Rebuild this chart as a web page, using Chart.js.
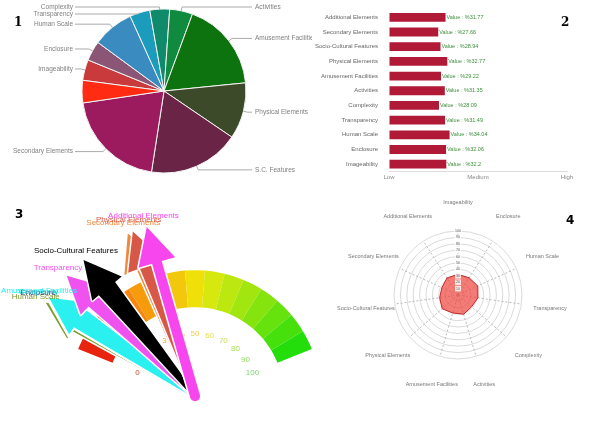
<!DOCTYPE html>
<html>
<head>
<meta charset="utf-8">
<script src="https://cdn.jsdelivr.net/npm/chart.js@4.4.1/dist/chart.umd.min.js"></script>
<style>
  html, body { margin: 0; padding: 0; background: #fff; }
  #wrap { position: relative; width: 600px; height: 423px; overflow: hidden; background: #fff; }
  canvas { position: absolute; }
  .num { position: absolute; font-size: 12px; line-height: 12px; font-weight: bold; color: #000; }
  .serif { font-family: "DejaVu Serif", serif; }
  .sans { font-family: "DejaVu Sans", sans-serif; }
</style>
</head>
<body>
<div id="wrap">
  <canvas id="pie" width="312" height="200" style="left:0;top:0"></canvas>
  <canvas id="bar" width="300" height="200" style="left:300px;top:0"></canvas>
  <canvas id="gauge" width="330" height="223" style="left:0;top:200px"></canvas>
  <canvas id="radar" width="300" height="228" style="left:300px;top:195px"></canvas>
  <div class="num serif" style="left:14px;top:16px">1</div>
  <div class="num serif" style="left:561px;top:16px">2</div>
  <div class="num sans" style="left:15px;top:208px">3</div>
  <div class="num sans" style="left:566px;top:214px">4</div>
</div>
<script>
// ---- DATA ----
// 1: pie (slice sizes read as degrees, clockwise starting at Imageability)
const pieLabels = ['Imageability', 'Enclosure', 'Human Scale', 'Transparency', 'Complexity', 'Activities',
  'Amusement Facilities', 'Physical Elements', 'S.C. Features', 'Secondary Elements', 'Additional Elements'];
const pieValues = [14.7, 14.1, 29.4, 14.3, 14.0, 16.3, 64.0, 39.9, 64.6, 72.8, 15.9];
const pieCallouts = ['Imageability', 'Enclosure', 'Human Scale', 'Transparency', 'Complexity', 'Activities',
  'Amusement Facilities', 'Physical Elements', 'S.C. Features', 'Secondary Elements', ''];

// 2: horizontal bars
const barCategories = ['Additional Elements', 'Secondary Elements', 'Socio-Cultural Features', 'Physical Elements',
  'Amusement Facilities', 'Activities', 'Complexity', 'Transparency', 'Human Scale', 'Enclosure', 'Imageability'];
const barValues = [31.77, 27.66, 28.94, 32.77, 29.22, 31.35, 28.09, 31.49, 34.04, 32.06, 32.2];
const levelLabels = ['Low', 'Medium', 'High'];

// 3: gauge bands + needles
const gaugeBands = [1, 1, 1, 1, 1, 1, 1, 1, 1, 1, 1, 1, 1, 1, 1];
const gaugeTicks = [0, 10, 20, 30, 40, 50, 60, 70, 80, 90, 100];
const arrowLabels = ['Human Scale', 'Enclosure', 'Complexity', 'Amusement Facilities', 'Transparency',
  'Socio-Cultural Features', 'Secondary Elements', 'Physical Elements', 'Additional Elements'];
const arrowValues = [7.4, 8.4, 8.6, 8.8, 15.6, 21.1, 33.5, 34.8, 38.3];

// 4: radar
const radarLabels = ['Imageability', 'Enclosure', 'Human Scale', 'Transparency', 'Complexity', 'Activities',
  'Amusement Facilities', 'Physical Elements', 'Socio-Cultural Features', 'Secondary Elements', 'Additional Elements'];
const radarValues = [32.2, 32.06, 34.04, 31.49, 28.09, 31.35, 29.22, 32.77, 28.94, 27.66, 31.77];

// ---- STYLES ----
const pieColors = ['#c93a3c', '#8b5675', '#3a8cc0', '#1b9cbc', '#0f8b6c', '#0f8a3e',
  '#0d730f', '#3c4a29', '#6a2546', '#9c1b5f', '#ff2b12'];
const bandColors = ['#e8230e', '#ee4712', '#f2700f', '#f5860e', '#f59b0c', '#f4b20a', '#f2c80c', '#efe00a',
  '#d6e80e', '#bde80f', '#a2e60f', '#86e40e', '#66e20d', '#46e00d', '#24de0c'];
const tickColors = ['#c8503c', '#e06030', '#f07a30', '#f5a030', '#f5c040', '#f2d04a', '#e2de50',
  '#c8e25a', '#a8e060', '#8ede62', '#78dc68'];
const arrowColors = ['#7c9c2c', '#1c3c6c', '#22b0c0', '#2af0f0', '#f052f0', '#000000', '#f0883a', '#d85848', '#f846ee'];
const arrowWidths = [[4, 20], [4, 20], [4, 20], [4, 21], [4, 15], [4, 21], [4, 11], [4, 13], [10, 10]];

Chart.defaults.font.family = '"Liberation Sans", Arial, sans-serif';
Chart.defaults.animation = false;
Chart.defaults.events = [];
Chart.defaults.plugins.legend.display = false;
Chart.defaults.plugins.tooltip.enabled = false;

// ---- 1: PIE ----
const pieCalloutPlugin = {
  id: 'pieCallouts',
  afterDatasetsDraw(chart) {
    const ctx = chart.ctx;
    const arcs = chart.getDatasetMeta(0).data;
    const items = [];
    arcs.forEach((arc, i) => {
      if (!pieCallouts[i]) return;
      const mid = (arc.startAngle + arc.endAngle) / 2;
      const c = Math.cos(mid), s = Math.sin(mid);
      const r = arc.outerRadius;
      items.push({
        text: pieCallouts[i], right: c >= 0, cx: arc.x,
        x0: arc.x + c * r, y0: arc.y + s * r,
        x1: arc.x + c * (r + 4), y: arc.y + s * (r + 4)
      });
    });
    // keep labels apart on each side
    [true, false].forEach(side => {
      const list = items.filter(it => it.right === side).sort((a, b) => a.y - b.y);
      list.forEach((it, k) => {
        if (k === 0) it.y = Math.max(it.y, 7);
        else if (it.y - list[k - 1].y < 7) it.y = list[k - 1].y + 7;
      });
    });
    ctx.save();
    ctx.strokeStyle = '#aaaaaa';
    ctx.lineWidth = 1;
    ctx.fillStyle = '#808080';
    ctx.font = '6.5px "Liberation Sans", Arial, sans-serif';
    ctx.textBaseline = 'middle';
    items.forEach(it => {
      const xe = it.right ? it.cx + 88 : it.cx - 89;
      ctx.beginPath();
      ctx.moveTo(it.x0, it.y0);
      ctx.lineTo(it.x1, it.y);
      ctx.lineTo(xe, it.y);
      ctx.stroke();
      ctx.textAlign = it.right ? 'left' : 'right';
      ctx.fillText(it.text, it.right ? xe + 3 : xe - 2, it.y);
    });
    ctx.restore();
  }
};

new Chart(document.getElementById('pie'), {
  type: 'pie',
  data: {
    labels: pieLabels,
    datasets: [{ data: pieValues, backgroundColor: pieColors, borderColor: '#f4f4f4', borderWidth: 1 }]
  },
  options: {
    responsive: false,
    rotation: -82.5,
    radius: 82,
    layout: { padding: { left: 16, right: 0, top: 0, bottom: 18 } }
  },
  plugins: [pieCalloutPlugin]
});

// ---- 2: BARS ----
const barValuePlugin = {
  id: 'barValues',
  afterDatasetsDraw(chart) {
    const ctx = chart.ctx;
    ctx.save();
    ctx.font = '5.5px "Liberation Sans", Arial, sans-serif';
    ctx.fillStyle = '#3d8f3d';
    ctx.textBaseline = 'middle';
    ctx.textAlign = 'left';
    chart.getDatasetMeta(0).data.forEach((bar, i) => {
      ctx.fillText('Value : %' + barValues[i], bar.x + 1, bar.y);
    });
    ctx.restore();
  }
};

new Chart(document.getElementById('bar'), {
  type: 'bar',
  data: {
    labels: barCategories,
    datasets: [{ data: barValues, backgroundColor: '#b01a37', barPercentage: 0.6, categoryPercentage: 1 }]
  },
  options: {
    indexAxis: 'y',
    responsive: false,
    layout: { padding: { left: 0, right: 33, top: 10, bottom: 0 } },
    scales: {
      x: {
        min: 0, max: 100,
        ticks: { stepSize: 50, callback: (v, i) => levelLabels[i], color: '#888', font: { size: 6 }, padding: 2, maxRotation: 0 },
        grid: { drawOnChartArea: false, drawTicks: false },
        border: { color: '#dddddd' },
        afterFit: s => { s.height = 28.5; }
      },
      y: {
        ticks: { color: '#666', font: { size: 6 }, padding: 3 },
        grid: { display: false },
        border: { display: false },
        afterFit: s => { s.width = 89; }
      }
    }
  },
  plugins: [barValuePlugin]
});

// ---- 3: GAUGE ----
function drawArrow(ctx, cx, cy, a, color, w0, w1) {
  const c = Math.cos(a), s = Math.sin(a);
  const px = -s, py = c;
  const len = 176, head = 37, half = 19, base = len - head;
  const bx = cx + c * base, by = cy + s * base;
  const pts = [
    [cx + px * w0 / 2, cy + py * w0 / 2],
    [bx + px * w1 / 2, by + py * w1 / 2],
    [bx + px * half, by + py * half],
    [cx + c * len, cy + s * len],
    [bx - px * half, by - py * half],
    [bx - px * w1 / 2, by - py * w1 / 2],
    [cx - px * w0 / 2, cy - py * w0 / 2]
  ];
  ctx.beginPath();
  pts.forEach((p, k) => (k ? ctx.lineTo(p[0], p[1]) : ctx.moveTo(p[0], p[1])));
  ctx.closePath();
  ctx.lineJoin = 'round';
  ctx.strokeStyle = '#fff';
  ctx.lineWidth = 3;
  ctx.stroke();
  ctx.fillStyle = color;
  ctx.fill();
  if (w0 === w1) {
    ctx.beginPath();
    ctx.arc(cx, cy, w0 / 2, 0, Math.PI * 2);
    ctx.fill();
  }
}

const gaugePlugin = {
  id: 'gaugeNeedles',
  afterDatasetsDraw(chart) {
    const ctx = chart.ctx;
    const arcs = chart.getDatasetMeta(0).data;
    const first = arcs[0], last = arcs[arcs.length - 1];
    const cx = first.x, cy = first.y;
    const ang = v => first.startAngle + (last.endAngle - first.startAngle) * v / 100;
    ctx.save();
    ctx.font = '8px "Liberation Sans", Arial, sans-serif';
    ctx.textAlign = 'center';
    ctx.textBaseline = 'middle';
    gaugeTicks.forEach((t, i) => {
      const a = ang(t);
      ctx.fillStyle = tickColors[i];
      ctx.fillText(String(t), cx + 62 * Math.cos(a), cy + 62 * Math.sin(a));
    });
    arrowValues.forEach((v, i) => {
      drawArrow(ctx, cx, cy, ang(v), arrowColors[i], arrowWidths[i][0], arrowWidths[i][1]);
    });
    arrowValues.forEach((v, i) => {
      const a = ang(v);
      ctx.fillStyle = arrowColors[i];
      ctx.fillText(arrowLabels[i], cx + 188 * Math.cos(a), cy + 188 * Math.sin(a));
    });
    ctx.restore();
  }
};

new Chart(document.getElementById('gauge'), {
  type: 'doughnut',
  data: {
    labels: gaugeBands.map((b, i) => 'band ' + i),
    datasets: [{ data: gaugeBands, backgroundColor: bandColors, borderWidth: 0 }]
  },
  options: {
    responsive: false,
    rotation: -68,
    circumference: 136,
    cutout: '70.6%',
    radius: 126,
    layout: { padding: { left: 60, right: 0, top: 10, bottom: 0 } }
  },
  plugins: [gaugePlugin]
});

// ---- 4: RADAR ----
const radarLabelPlugin = {
  id: 'radarLabels',
  afterDraw(chart) {
    const ctx = chart.ctx;
    const r = chart.scales.r;
    ctx.save();
    ctx.font = '5.5px "Liberation Sans", Arial, sans-serif';
    ctx.fillStyle = '#777';
    ctx.textAlign = 'center';
    ctx.textBaseline = 'middle';
    radarLabels.forEach((t, i) => {
      const p = r.getPointPosition(i, 93);
      ctx.fillText(t, p.x, p.y);
    });
    ctx.restore();
  }
};

new Chart(document.getElementById('radar'), {
  type: 'radar',
  data: {
    labels: radarLabels,
    datasets: [{
      data: radarValues,
      backgroundColor: 'rgba(238,70,60,0.7)',
      borderColor: '#c0282a',
      borderWidth: 1,
      pointRadius: 0
    }]
  },
  options: {
    responsive: false,
    layout: { padding: { left: 91, right: 75, top: 33, bottom: 61 } },
    scales: {
      r: {
        min: 0, max: 100,
        ticks: { stepSize: 5, font: { size: 3.5 }, color: '#555', backdropPadding: 1, backdropColor: 'rgba(255,255,255,0.85)', z: 1 },
        grid: { circular: true, color: '#dadada' },
        angleLines: { color: '#b8b8b8', borderDash: [2, 2] },
        pointLabels: { display: false }
      }
    }
  },
  plugins: [radarLabelPlugin]
});
</script>
</body>
</html>
